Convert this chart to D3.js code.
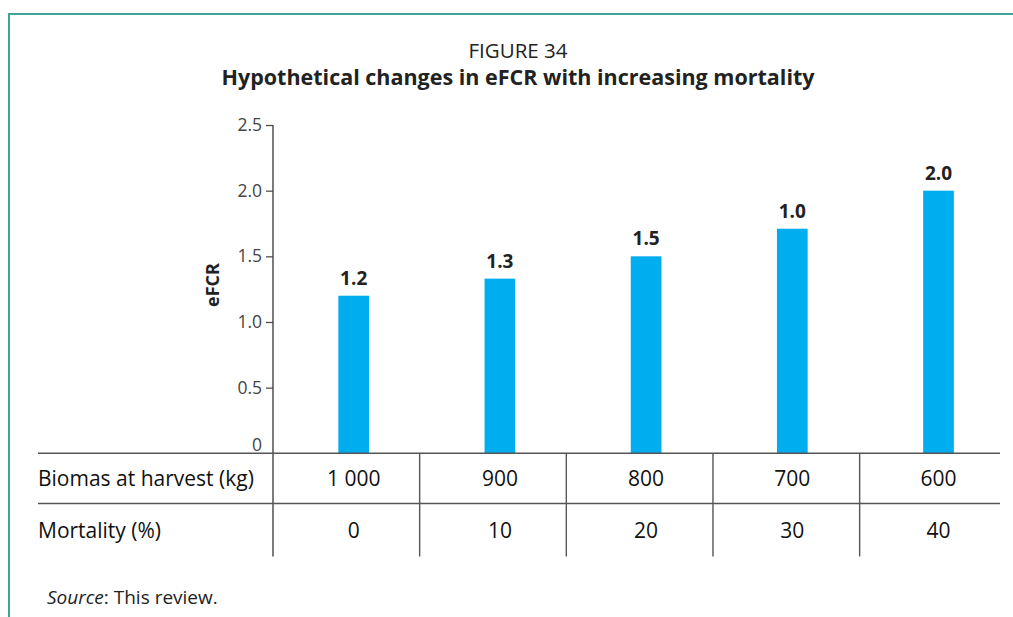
<!DOCTYPE html>
<html>
<head>
<meta charset="utf-8">
<script src="https://cdn.jsdelivr.net/npm/d3@7"></script>
<style>
  html, body { margin: 0; padding: 0; background: #fff; }
  svg { display: block; font-family: "Open Sans", "Noto Sans", sans-serif; }
</style>
</head>
<body>
<div id="chart"></div>
<script>
// ---- data ----
const categories = ["1 000", "900", "800", "700", "600"];
const biomass = ["1 000", "900", "800", "700", "600"];
const mortality = ["0", "10", "20", "30", "40"];
const efcrValues = [1.2, 1.33, 1.5, 1.71, 2.0];
const valueLabels = ["1.2", "1.3", "1.5", "1.0", "2.0"];
const yTicks = [0, 0.5, 1.0, 1.5, 2.0, 2.5];
const rowLabels = ["Biomas at harvest (kg)", "Mortality (%)"];

const W = 1013, H = 617;
const svg = d3.select("#chart").append("svg").attr("width", W).attr("height", H);

// frame
svg.append("path").attr("d", `M9,${H} V14 H${W}`)
  .attr("fill", "none").attr("stroke", "#3aa598").attr("stroke-width", 2);

// titles
svg.append("text").attr("x", 518).attr("y", 58).attr("text-anchor", "middle")
  .attr("font-size", 20.5).attr("fill", "#222").text("FIGURE 34");
svg.append("text").attr("x", 518).attr("y", 85).attr("text-anchor", "middle")
  .attr("font-size", 21.5).attr("font-weight", "bold").attr("fill", "#222")
  .text("Hypothetical changes in eFCR with increasing mortality");

// scales
const y = d3.scaleLinear().domain([0, 2.5]).range([453.3, 125]);
const xBar = d3.scaleBand().domain(categories).range([280.6, 1011.6])
  .paddingInner(0.79).paddingOuter(0.395);
const xCol = d3.scaleBand().domain(categories).range([273, 1006.3]);

// y axis
const yAxis = d3.axisLeft(y).tickValues(yTicks).tickSize(7).tickPadding(4)
  .tickFormat(d => d === 0 ? "0" : d3.format(".1f")(d));
const gy = svg.append("g").attr("transform", "translate(273,0)").call(yAxis);
gy.select(".domain").remove();
gy.selectAll(".tick line").attr("stroke", "#444").attr("stroke-width", 1.2);
gy.selectAll(".tick").filter(d => d === 0).select("line").remove();
gy.selectAll(".tick text").attr("font-size", 17.5).attr("fill", "#444")
  .attr("font-family", "\"Open Sans\", sans-serif");
gy.selectAll(".tick").filter(d => d === 0).select("text").attr("dy", "-0.15em");
svg.append("line").attr("x1", 273).attr("x2", 273).attr("y1", 125).attr("y2", 556.5)
  .attr("stroke", "#444").attr("stroke-width", 1.4);

// y label
svg.append("text").attr("transform", "translate(219,285) rotate(-90)")
  .attr("text-anchor", "middle").attr("font-size", 18).attr("font-weight", "bold")
  .attr("fill", "#222").text("eFCR");

// bars
svg.selectAll("rect.bar").data(efcrValues).join("rect").attr("class", "bar")
  .attr("x", (d, i) => xBar(categories[i]))
  .attr("width", xBar.bandwidth())
  .attr("y", d => y(d))
  .attr("height", d => y(0) - y(d))
  .attr("fill", "#00aeef");

// value labels
svg.selectAll("text.val").data(efcrValues).join("text").attr("class", "val")
  .attr("x", (d, i) => xBar(categories[i]) + xBar.bandwidth() / 2)
  .attr("y", d => y(d) - 11)
  .attr("text-anchor", "middle").attr("font-size", 19).attr("font-weight", "bold")
  .attr("fill", "#222").text((d, i) => valueLabels[i]);

// table
const rowY = [453.3, 503.5];
rowY.forEach(yy => {
  svg.append("line").attr("x1", 38).attr("x2", 1000).attr("y1", yy).attr("y2", yy)
    .attr("stroke", "#555").attr("stroke-width", 1.4);
});
categories.slice(1).forEach(c => {
  svg.append("line").attr("x1", xCol(c)).attr("x2", xCol(c)).attr("y1", 453.3).attr("y2", 556.5)
    .attr("stroke", "#555").attr("stroke-width", 1.4);
});
const baselines = [486, 538];
rowLabels.forEach((t, r) => {
  svg.append("text").attr("x", 38).attr("y", baselines[r]).attr("font-size", 21)
    .attr("fill", "#111").text(t);
});
[biomass, mortality].forEach((row, r) => {
  svg.selectAll(null).data(row).join("text")
    .attr("x", (d, i) => xBar(categories[i]) + xBar.bandwidth() / 2)
    .attr("y", baselines[r]).attr("text-anchor", "middle")
    .attr("font-size", 21).attr("fill", "#111").text(d => d);
});

// source
const src = svg.append("text").attr("x", 47).attr("y", 604).attr("font-size", 19).attr("fill", "#222");
src.append("tspan").attr("font-style", "italic").text("Source");
src.append("tspan").text(": This review.");
</script>
</body>
</html>
